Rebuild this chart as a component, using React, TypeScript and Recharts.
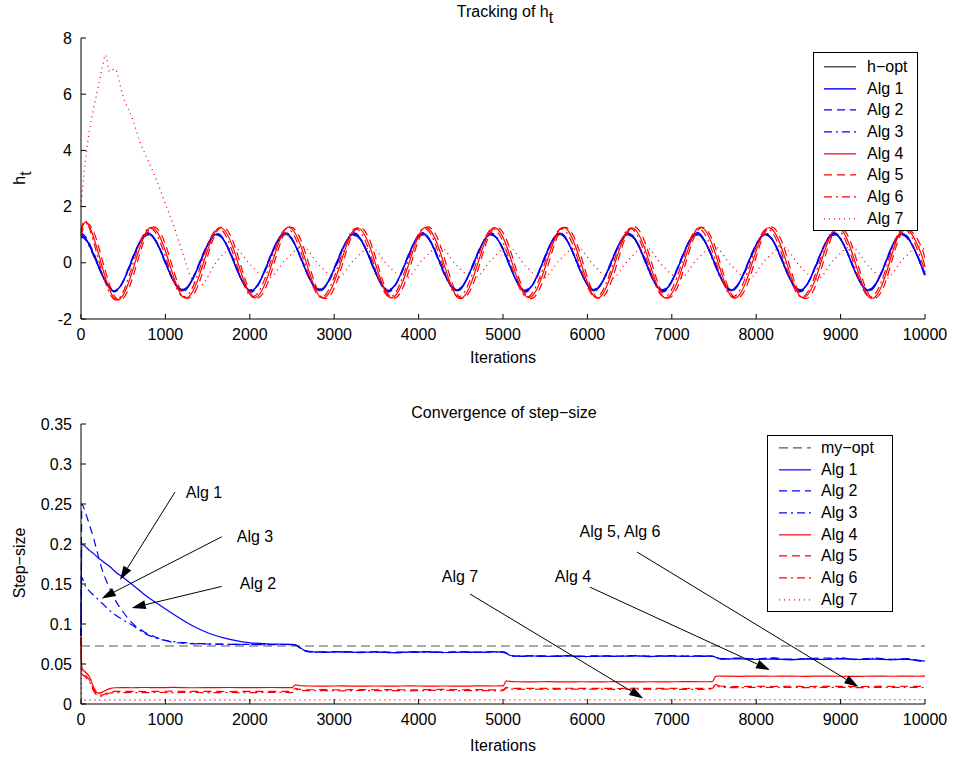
import React from "react";
import { LineChart, Line, XAxis, YAxis, Legend, ReferenceLine, ReferenceDot } from "recharts";

const FONT = '"Liberation Sans", Arial, Helvetica, sans-serif';
const BLUE = "#0000ff";
const RED = "#ff0000";

const iterTicks = [0, 1000, 2000, 3000, 4000, 5000, 6000, 7000, 8000, 9000, 10000];
const hTicks = [-2, 0, 2, 4, 6, 8];
const stepTicks = [0, 0.05, 0.1, 0.15, 0.2, 0.25, 0.3, 0.35];

// iterations where h_t crosses zero / hits its extremes (quarter periods)
const trackIters = [
  0, 60,
  186, 390, 593, 796,
  999, 1202, 1406, 1609,
  1812, 2015, 2218, 2422,
  2625, 2828, 3031, 3234,
  3438, 3641, 3844, 4047,
  4250, 4454, 4657, 4860,
  5063, 5266, 5470, 5673,
  5876, 6079, 6282, 6486,
  6689, 6892, 7095, 7298,
  7502, 7705, 7908, 8111,
  8314, 8518, 8721, 8924,
  9127, 9330, 9534, 9737,
  9940, 10000,
];

const hOpt = [
  0.99, 0.83,
  0, -1, 0, 1,
  0, -1, 0, 1,
  0, -1, 0, 1,
  0, -1, 0, 1,
  0, -1, 0, 1,
  0, -1, 0, 1,
  0, -1, 0, 1,
  0, -1, 0, 1,
  0, -1, 0, 1,
  0, -1, 0, 1,
  0, -1, 0, 1,
  0, -1, 0, 1,
  0, -0.45,
];

const trackAlg1 = [
  0.95, 0.85,
  0.05, -1.0, 0.02, 1.05,
  0.03, -0.97, -0.02, 1.03,
  0.04, -0.99, 0.03, 1.06,
  0.02, -0.96, 0.01, 1.04,
  0.05, -0.98, -0.01, 1.05,
  0.03, -0.97, 0.02, 1.02,
  0.04, -1.0, 0.01, 1.05,
  0.02, -0.96, 0.03, 1.04,
  0.05, -0.99, -0.02, 1.06,
  0.03, -0.97, 0.02, 1.03,
  0.04, -0.98, 0.01, 1.05,
  0.02, -0.97, 0.02, 1.04,
  0.03, -0.43,
];

const trackAlg2 = [
  1.05, 0.9,
  0.08, -1.03, 0.05, 1.0,
  0.06, -1.02, 0.03, 0.99,
  0.07, -1.04, 0.05, 1.01,
  0.05, -1.01, 0.04, 0.98,
  0.08, -1.03, 0.02, 1.0,
  0.06, -1.02, 0.05, 0.99,
  0.07, -1.04, 0.03, 1.01,
  0.05, -1.0, 0.04, 0.98,
  0.08, -1.03, 0.03, 1.0,
  0.06, -1.02, 0.05, 0.99,
  0.07, -1.03, 0.03, 1.0,
  0.05, -1.02, 0.04, 0.99,
  0.06, -0.4,
];

const trackAlg3 = [
  0.9, 0.8,
  0.0, -0.97, -0.03, 1.07,
  -0.02, -0.95, -0.04, 1.05,
  0.01, -0.96, -0.02, 1.08,
  -0.01, -0.94, -0.05, 1.06,
  0.0, -0.96, -0.03, 1.07,
  -0.02, -0.95, -0.02, 1.05,
  0.01, -0.97, -0.04, 1.07,
  -0.01, -0.94, -0.03, 1.06,
  0.0, -0.96, -0.02, 1.08,
  -0.02, -0.95, -0.04, 1.05,
  0.01, -0.96, -0.03, 1.07,
  -0.01, -0.95, -0.02, 1.06,
  0.0, -0.47,
];

const trackAlg4 = [
  1.05, 1.45,
  0.55, -1.25, -0.45, 1.2,
  0.43, -1.2, -0.42, 1.19,
  0.45, -1.18, -0.44, 1.21,
  0.42, -1.2, -0.43, 1.18,
  0.44, -1.19, -0.41, 1.2,
  0.43, -1.21, -0.44, 1.19,
  0.42, -1.18, -0.43, 1.2,
  0.44, -1.2, -0.42, 1.18,
  0.43, -1.19, -0.44, 1.21,
  0.45, -1.2, -0.43, 1.19,
  0.42, -1.18, -0.42, 1.2,
  0.44, -1.2, -0.43, 1.19,
  0.43, -0.15,
];

const trackAlg5 = [
  0.95, 1.38,
  0.8, -1.15, -0.7, 1.12,
  0.67, -1.11, -0.66, 1.12,
  0.68, -1.1, -0.67, 1.11,
  0.66, -1.12, -0.68, 1.1,
  0.67, -1.11, -0.66, 1.12,
  0.68, -1.1, -0.67, 1.11,
  0.66, -1.12, -0.67, 1.1,
  0.67, -1.11, -0.68, 1.12,
  0.68, -1.1, -0.66, 1.11,
  0.66, -1.11, -0.67, 1.12,
  0.67, -1.12, -0.68, 1.1,
  0.68, -1.1, -0.67, 1.11,
  0.67, 0.1,
];

const trackAlg6 = [
  1.15, 1.48,
  0.35, -1.3, -0.25, 1.22,
  0.23, -1.2, -0.22, 1.21,
  0.24, -1.19, -0.23, 1.2,
  0.22, -1.21, -0.24, 1.19,
  0.23, -1.2, -0.23, 1.21,
  0.24, -1.19, -0.22, 1.2,
  0.22, -1.2, -0.23, 1.19,
  0.23, -1.21, -0.24, 1.21,
  0.24, -1.2, -0.22, 1.2,
  0.22, -1.19, -0.23, 1.19,
  0.23, -1.2, -0.24, 1.21,
  0.24, -1.21, -0.23, 1.2,
  0.23, -0.33,
];

// Alg 7 has its own grid: the start-up overshoot needs finer steps
const trackIters7 = [
  0, 50, 100, 150, 200, 250, 290, 340, 400, 500,
  600, 700, 800, 900, 1000, 1100, 1200, 1300, 1406,
  1609, 1812, 2015, 2218,
  2422, 2625, 2828, 3031,
  3234, 3438, 3641, 3844,
  4047, 4250, 4454, 4657,
  4860, 5063, 5266, 5470,
  5673, 5876, 6079, 6282,
  6486, 6689, 6892, 7095,
  7298, 7502, 7705, 7908,
  8111, 8314, 8518, 8721,
  8924, 9127, 9330, 9534,
  9737, 9940, 10000,
];

const trackAlg7 = [
  2.0, 3.6, 4.7, 5.5, 6.2, 6.9, 7.4, 6.8, 6.9, 5.9,
  5.2, 4.3, 3.6, 2.9, 2.1, 1.3, 0.4, -0.5, -0.82,
  0.05, 0.55, -0.1, -0.55,
  0.1, 0.56, -0.1, -0.55,
  0.1, 0.55, -0.11, -0.56,
  0.11, 0.56, -0.1, -0.55,
  0.1, 0.57, -0.11, -0.56,
  0.11, 0.56, -0.1, -0.57,
  0.1, 0.57, -0.11, -0.56,
  0.12, 0.58, -0.1, -0.57,
  0.11, 0.57, -0.12, -0.58,
  0.12, 0.58, -0.11, -0.57,
  0.12, 0.58, 0.45,
];

// step-size estimates
const stepIters = [
  0, 10, 50, 100, 150, 200, 250, 300, 350, 400,
  500, 600, 750, 900, 1100, 1300, 1500, 1750, 2000, 2250,
  2500, 2540, 2580, 2640, 2700, 2900, 3100, 3300, 3500, 3700,
  3900, 4100, 4300, 4500, 4700, 4900, 5000, 5040, 5080, 5150,
  5350, 5550, 5750, 5950, 6150, 6350, 6550, 6750, 6950, 7150,
  7350, 7480, 7520, 7560, 7620, 7800, 8000, 8200, 8400, 8600,
  8800, 9000, 9200, 9400, 9600, 9800, 9900, 10000,
];

const stepAlg1 = [
  0.085, 0.2, 0.197, 0.192, 0.188, 0.183, 0.179, 0.175, 0.171, 0.166,
  0.158, 0.15, 0.137, 0.126, 0.112, 0.099, 0.089, 0.081, 0.0765, 0.075,
  0.0745, 0.074, 0.0715, 0.0675, 0.0655, 0.0648, 0.0652, 0.0645, 0.065, 0.0643,
  0.0648, 0.0651, 0.0644, 0.0649, 0.0646, 0.0652, 0.0648, 0.0635, 0.061, 0.0597,
  0.06, 0.0596, 0.0601, 0.0594, 0.0599, 0.0597, 0.0602, 0.0595, 0.06, 0.0596,
  0.0598, 0.0597, 0.0585, 0.057, 0.0562, 0.0565, 0.0558, 0.0562, 0.0555, 0.0561,
  0.0557, 0.0563, 0.0556, 0.056, 0.0554, 0.0559, 0.0545, 0.0535,
];

const stepAlg2 = [
  0.085, 0.25, 0.24, 0.224, 0.207, 0.187, 0.168, 0.154, 0.142, 0.131,
  0.115, 0.102, 0.09, 0.083, 0.077, 0.0755, 0.075, 0.0746, 0.0744, 0.0743,
  0.0744, 0.0738, 0.0712, 0.067, 0.0658, 0.0652, 0.0655, 0.0649, 0.0654, 0.0647,
  0.0653, 0.0655, 0.0648, 0.0654, 0.065, 0.0656, 0.0651, 0.0638, 0.0612, 0.06,
  0.0604, 0.0599, 0.0605, 0.0598, 0.0603, 0.06, 0.0606, 0.0599, 0.0604, 0.06,
  0.0602, 0.06, 0.0588, 0.0574, 0.0566, 0.0572, 0.0563, 0.0578, 0.056, 0.0566,
  0.0575, 0.0568, 0.0561, 0.0574, 0.0559, 0.0566, 0.055, 0.0538,
];

const stepAlg3 = [
  0.085, 0.158, 0.148, 0.141, 0.136, 0.131, 0.126, 0.121, 0.116, 0.112,
  0.105, 0.099, 0.0885, 0.082, 0.078, 0.076, 0.0752, 0.0747, 0.0745, 0.0744,
  0.0743, 0.0737, 0.071, 0.0668, 0.0652, 0.0646, 0.065, 0.0643, 0.0648, 0.0641,
  0.0646, 0.0649, 0.0642, 0.0647, 0.0644, 0.065, 0.0646, 0.0632, 0.0608, 0.0595,
  0.0598, 0.0594, 0.0599, 0.0592, 0.0597, 0.0595, 0.06, 0.0593, 0.0598, 0.0594,
  0.0596, 0.0595, 0.0583, 0.0568, 0.056, 0.0575, 0.0556, 0.0571, 0.0553, 0.0569,
  0.0555, 0.0577, 0.0554, 0.0572, 0.0552, 0.0568, 0.0543, 0.0533,
];

const stepAlg4 = [
  0.083, 0.045, 0.04, 0.034, 0.021, 0.0135, 0.0145, 0.0175, 0.0195, 0.0203,
  0.0205, 0.0203, 0.0206, 0.0204, 0.0207, 0.0203, 0.0205, 0.0206, 0.0204, 0.0206,
  0.0205, 0.0238, 0.0232, 0.0226, 0.0225, 0.0224, 0.0226, 0.0223, 0.0225, 0.0224,
  0.0226, 0.0224, 0.0225, 0.0223, 0.0226, 0.0225, 0.0226, 0.0288, 0.0282, 0.0278,
  0.0277, 0.0279, 0.0276, 0.0278, 0.0277, 0.0279, 0.0276, 0.0278, 0.0277, 0.0279,
  0.0278, 0.0279, 0.0345, 0.035, 0.0348, 0.0346, 0.0349, 0.0347, 0.0348, 0.0346,
  0.0349, 0.0347, 0.0346, 0.0348, 0.0347, 0.0349, 0.0347, 0.0348,
];

const stepAlg5 = [
  0.083, 0.04, 0.036, 0.03, 0.018, 0.0115, 0.011, 0.0135, 0.0152, 0.0158,
  0.0157, 0.0159, 0.0156, 0.0158, 0.016, 0.0157, 0.0159, 0.0156, 0.0158, 0.0157,
  0.0158, 0.0195, 0.0185, 0.018, 0.0178, 0.0179, 0.0177, 0.018, 0.0178, 0.0179,
  0.0177, 0.018, 0.0182, 0.0178, 0.0179, 0.0177, 0.0178, 0.0208, 0.0198, 0.0195,
  0.0196, 0.0194, 0.0197, 0.0195, 0.0196, 0.0194, 0.0197, 0.0195, 0.0196, 0.0194,
  0.0195, 0.0196, 0.0255, 0.0228, 0.022, 0.0218, 0.0221, 0.0219, 0.0222, 0.0218,
  0.022, 0.0221, 0.0218, 0.022, 0.0219, 0.0222, 0.022, 0.0219,
];

const stepAlg6 = [
  0.083, 0.038, 0.034, 0.028, 0.016, 0.0105, 0.0098, 0.012, 0.0138, 0.0143,
  0.0142, 0.0144, 0.0141, 0.0145, 0.0142, 0.0146, 0.0141, 0.0144, 0.0142, 0.0145,
  0.0143, 0.0182, 0.0174, 0.0168, 0.0166, 0.0168, 0.0165, 0.0169, 0.0166, 0.0168,
  0.0165, 0.0169, 0.0172, 0.0166, 0.0168, 0.0165, 0.0167, 0.0198, 0.0188, 0.0184,
  0.0185, 0.0183, 0.0186, 0.0184, 0.0185, 0.0183, 0.0186, 0.0184, 0.0185, 0.0183,
  0.0184, 0.0185, 0.0245, 0.0215, 0.0207, 0.0205, 0.0208, 0.0206, 0.0209, 0.0205,
  0.0207, 0.0208, 0.0205, 0.0207, 0.0206, 0.0209, 0.0207, 0.0206,
];

const stepIters7 = [0, 10, 10000];
const stepAlg7 = [0.083, 0.005, 0.0055];

const optIters = [0, 10000];
const myOpt = [0.0725, 0.0725];

type Curve = "natural" | "monotone";
type Series = {
  name: string;
  iters: number[];
  values: number[];
  color: string;
  dash?: string;
  width: number;
  curve: Curve;
};

const toPoints = (iters: number[], values: number[]) =>
  iters.map((t, i) => ({ t, v: values[i] }));

const DASH = "8 5";
const DASH_DOT = "8 4 2 4";
const DOT = "1 4";

const trackSeries: Series[] = [
  { name: "h\u2212opt", iters: trackIters, values: hOpt, color: "#000", width: 1, curve: "natural" },
  { name: "Alg 1", iters: trackIters, values: trackAlg1, color: BLUE, width: 1.4, curve: "natural" },
  { name: "Alg 2", iters: trackIters, values: trackAlg2, color: BLUE, dash: DASH, width: 1.4, curve: "natural" },
  { name: "Alg 3", iters: trackIters, values: trackAlg3, color: BLUE, dash: DASH_DOT, width: 1.4, curve: "natural" },
  { name: "Alg 4", iters: trackIters, values: trackAlg4, color: RED, width: 1.2, curve: "natural" },
  { name: "Alg 5", iters: trackIters, values: trackAlg5, color: RED, dash: DASH, width: 1.2, curve: "natural" },
  { name: "Alg 6", iters: trackIters, values: trackAlg6, color: RED, dash: DASH_DOT, width: 1.2, curve: "natural" },
  { name: "Alg 7", iters: trackIters7, values: trackAlg7, color: RED, dash: DOT, width: 1.3, curve: "monotone" },
];

const stepSeries: Series[] = [
  { name: "my\u2212opt", iters: optIters, values: myOpt, color: "#555", dash: "9 5", width: 1.2, curve: "monotone" },
  { name: "Alg 1", iters: stepIters, values: stepAlg1, color: BLUE, width: 1.2, curve: "monotone" },
  { name: "Alg 2", iters: stepIters, values: stepAlg2, color: BLUE, dash: DASH, width: 1.2, curve: "monotone" },
  { name: "Alg 3", iters: stepIters, values: stepAlg3, color: BLUE, dash: DASH_DOT, width: 1.2, curve: "monotone" },
  { name: "Alg 4", iters: stepIters, values: stepAlg4, color: RED, width: 1.2, curve: "monotone" },
  { name: "Alg 5", iters: stepIters, values: stepAlg5, color: RED, dash: DASH, width: 1.2, curve: "monotone" },
  { name: "Alg 6", iters: stepIters, values: stepAlg6, color: RED, dash: DASH_DOT, width: 1.2, curve: "monotone" },
  { name: "Alg 7", iters: stepIters7, values: stepAlg7, color: RED, dash: DOT, width: 1.3, curve: "monotone" },
];

// text anchor, arrow tail and arrow tip, in (iteration, step-size) units
const annotations = [
  { label: "Alg 1", textAt: [1457, 0.265], from: [1114, 0.265], to: [462, 0.155] },
  { label: "Alg 3", textAt: [2062, 0.209], from: [1667, 0.209], to: [245, 0.132] },
  { label: "Alg 2", textAt: [2097, 0.151], from: [1667, 0.147], to: [601, 0.12] },
  { label: "Alg 7", textAt: [4491, 0.159], from: [4609, 0.1375], to: [6662, 0.007] },
  { label: "Alg 4", textAt: [5829, 0.159], from: [6031, 0.146], to: [8164, 0.0425] },
  { label: "Alg 5, Alg 6", textAt: [6386, 0.216], from: [6588, 0.19], to: [9210, 0.0216] },
];

const tickStyle = { fill: "#000", fontSize: 16, fontFamily: FONT };

const Arrow = (p: any) => {
  const x1 = Number(p.x1), y1 = Number(p.y1), x2 = Number(p.x2), y2 = Number(p.y2);
  const a = Math.atan2(y2 - y1, x2 - x1);
  const len = 14;
  const half = 4.5;
  const bx = x2 - len * Math.cos(a);
  const by = y2 - len * Math.sin(a);
  const pts = [
    [x2, y2],
    [bx + half * Math.sin(a), by - half * Math.cos(a)],
    [bx - half * Math.sin(a), by + half * Math.cos(a)],
  ]
    .map((q) => q.join(","))
    .join(" ");
  return (
    <g>
      <line x1={x1} y1={y1} x2={bx} y2={by} stroke="#000" strokeWidth={1} />
      <polygon points={pts} fill="#000" />
    </g>
  );
};

const annotationText = (label: string) => (p: any) => (
  <text
    x={p.cx}
    y={p.cy}
    textAnchor="middle"
    dominantBaseline="central"
    fontSize={16}
    fontFamily={FONT}
    fill="#000"
  >
    {label}
  </text>
);

const LegendBox = ({
  items,
  width,
  padTop,
  sampleLeft,
  textLeft,
}: {
  items: Series[];
  width: number;
  padTop: number;
  sampleLeft: number;
  textLeft: number;
}) => {
  const rowH = 21.7;
  return (
    <div
      style={{
        width,
        boxSizing: "border-box",
        border: "1px solid #000",
        background: "#fff",
        paddingTop: padTop,
        fontFamily: FONT,
        fontSize: 16,
        color: "#000",
      }}
    >
      {items.map((s) => (
        <div key={s.name} style={{ position: "relative", height: rowH }}>
          <svg width={32} height={rowH} style={{ position: "absolute", left: sampleLeft, top: 0 }}>
            <line
              x1={0}
              y1={rowH / 2}
              x2={32}
              y2={rowH / 2}
              stroke={s.color}
              strokeWidth={s.width}
              strokeDasharray={s.dash}
            />
          </svg>
          <span
            style={{
              position: "absolute",
              left: textLeft,
              top: 0,
              lineHeight: `${rowH}px`,
              whiteSpace: "nowrap",
            }}
          >
            {s.name}
          </span>
        </div>
      ))}
    </div>
  );
};

const renderLines = (list: Series[]) =>
  list.map((s) => (
    <Line
      key={s.name}
      data={toPoints(s.iters, s.values)}
      dataKey="v"
      name={s.name}
      type={s.curve}
      stroke={s.color}
      strokeWidth={s.width}
      strokeDasharray={s.dash}
      dot={false}
      activeDot={false}
      isAnimationActive={false}
    />
  ));

const label = (left: number, top: number, rotate = false): React.CSSProperties => ({
  position: "absolute",
  left,
  top,
  transform: rotate ? "translate(-50%, -50%) rotate(-90deg)" : "translate(-50%, -50%)",
  fontFamily: FONT,
  fontSize: 16,
  lineHeight: "18px",
  whiteSpace: "nowrap",
  color: "#000",
});

const sub: React.CSSProperties = { position: "relative", top: 6 };

export default function App() {
  return (
    <div
      style={{
        position: "absolute",
        left: 0,
        top: 0,
        width: 954,
        height: 759,
        background: "#fff",
        fontFamily: FONT,
        overflow: "hidden",
      }}
    >
      <div style={label(505, 12)}>
        Tracking of h<span style={sub}>t</span>
      </div>
      <div style={label(20, 178, true)}>
        h<span style={sub}>t</span>
      </div>
      <div style={label(503, 358)}>Iterations</div>
      <div style={label(504, 413)}>{"Convergence of step\u2212size"}</div>
      <div style={label(20, 563, true)}>{"Step\u2212size"}</div>
      <div style={label(503, 746)}>Iterations</div>

      <div style={{ position: "absolute", left: 0, top: 0 }}>
        <LineChart width={954} height={375} margin={{ top: 38, right: 29, bottom: 0, left: 0 }}>
          <XAxis
            type="number"
            dataKey="t"
            domain={[0, 10000]}
            ticks={iterTicks}
            interval={0}
            height={56}
            stroke="#000"
            tickSize={-5}
            tickMargin={15}
            tick={tickStyle}
          />
          <XAxis
            xAxisId="top"
            orientation="top"
            type="number"
            domain={[0, 10000]}
            ticks={iterTicks}
            interval={0}
            height={0}
            stroke="#000"
            tickSize={-5}
            tick={false}
          />
          <YAxis
            type="number"
            domain={[-2, 8]}
            ticks={hTicks}
            interval={0}
            width={81}
            stroke="#000"
            tickSize={-5}
            tickMargin={14}
            tick={tickStyle}
          />
          <YAxis
            yAxisId="right"
            orientation="right"
            type="number"
            domain={[-2, 8]}
            ticks={hTicks}
            interval={0}
            width={0}
            stroke="#000"
            tickSize={-5}
            tick={false}
          />
          {renderLines(trackSeries)}
          <Legend
            layout="vertical"
            align="center"
            verticalAlign="middle"
            wrapperStyle={{ left: 813, top: 52, width: 105 }}
            content={() => (
              <LegendBox items={trackSeries} width={105} padTop={3} sampleLeft={10} textLeft={53} />
            )}
          />
        </LineChart>
      </div>

      <div style={{ position: "absolute", left: 0, top: 380 }}>
        <LineChart width={954} height={379} margin={{ top: 44, right: 29, bottom: 0, left: 0 }}>
          <XAxis
            type="number"
            dataKey="t"
            domain={[0, 10000]}
            ticks={iterTicks}
            interval={0}
            height={55}
            stroke="#000"
            tickSize={-5}
            tickMargin={15}
            tick={tickStyle}
          />
          <XAxis
            xAxisId="top"
            orientation="top"
            type="number"
            domain={[0, 10000]}
            ticks={iterTicks}
            interval={0}
            height={0}
            stroke="#000"
            tickSize={-5}
            tick={false}
          />
          <YAxis
            type="number"
            domain={[0, 0.35]}
            ticks={stepTicks}
            interval={0}
            width={81}
            stroke="#000"
            tickSize={-5}
            tickMargin={14}
            tick={tickStyle}
          />
          <YAxis
            yAxisId="right"
            orientation="right"
            type="number"
            domain={[0, 0.35]}
            ticks={stepTicks}
            interval={0}
            width={0}
            stroke="#000"
            tickSize={-5}
            tick={false}
          />
          {renderLines(stepSeries)}
          {annotations.map((a) => (
            <ReferenceLine
              key={`arrow-${a.label}`}
              segment={[
                { x: a.from[0], y: a.from[1] },
                { x: a.to[0], y: a.to[1] },
              ]}
              shape={Arrow}
            />
          ))}
          {annotations.map((a) => (
            <ReferenceDot
              key={`text-${a.label}`}
              x={a.textAt[0]}
              y={a.textAt[1]}
              r={0}
              shape={annotationText(a.label)}
            />
          ))}
          <Legend
            layout="vertical"
            align="center"
            verticalAlign="middle"
            wrapperStyle={{ left: 767, top: 55, width: 126 }}
            content={() => (
              <LegendBox items={stepSeries} width={126} padTop={1} sampleLeft={11} textLeft={53} />
            )}
          />
        </LineChart>
      </div>
    </div>
  );
}
